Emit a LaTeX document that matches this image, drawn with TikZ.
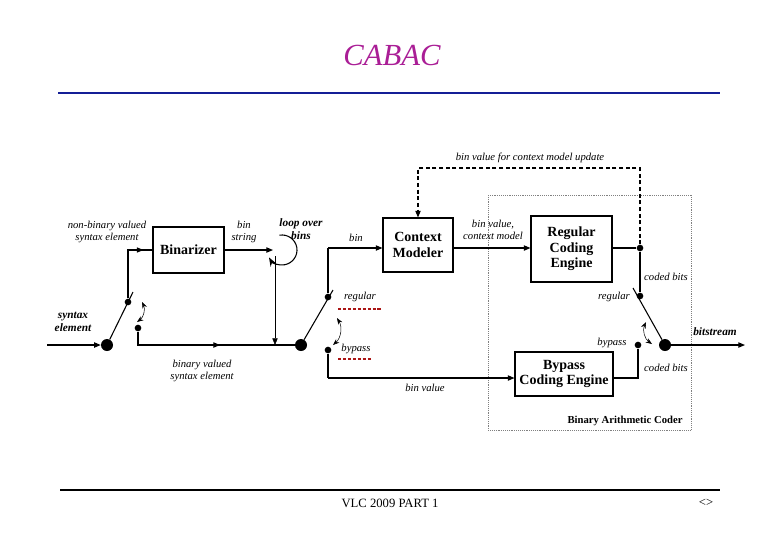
\documentclass[tikz,border=0pt]{standalone}
\usepackage{fontspec}
\setmainfont{Liberation Serif}
\usetikzlibrary{arrows.meta}
\definecolor{ttl}{RGB}{170,30,150}
\definecolor{navy}{RGB}{20,30,150}
\definecolor{dred}{RGB}{170,20,20}
\begin{document}
\begin{tikzpicture}[x=0.75pt,y=-0.75pt,
  box/.style={draw,thick,fill=white,align=center,font=\bfseries\fontsize{10.5}{11.5}\selectfont,inner sep=1pt},
  lab/.style={font=\itshape\fontsize{8}{9}\selectfont,align=center,inner sep=0pt},
  blab/.style={font=\bfseries\itshape\fontsize{8.5}{9.5}\selectfont,align=center,inner sep=0pt},
  arr/.style={-{Triangle[length=5pt,width=4pt]}},
  dot/.style={circle,fill,inner sep=0pt,minimum size=5pt},
  bdot/.style={circle,fill,inner sep=0pt,minimum size=9pt},
  >=Stealth]
\useasboundingbox (0,0) rectangle (780,540);
\node[font=\itshape\fontsize{23}{26}\selectfont,text=ttl] (title) at (392,55) {CABAC};
\draw[navy,thick] (58,93) -- (720,93);
\draw[thick] (60,490) -- (720,490);
\node[font=\fontsize{9.5}{11}\selectfont] (foot) at (390,503) {VLC 2009 PART 1};
\node[font=\fontsize{9.5}{11}\selectfont] (pg) at (706,503) {<>};
% dotted coder box
\draw[densely dotted,gray] (488,195) rectangle (691,430);
\node[font=\bfseries\fontsize{8}{9}\selectfont] (bac) at (625,421) {Binary Arithmetic Coder};
% boxes
\node[box,minimum width=71pt*0.75,minimum height=46pt*0.75] (bin) at (188.5,250) {Binarizer};
\node[box,minimum width=70pt*0.75,minimum height=54pt*0.75] (cm) at (418,245) {Context\\Modeler};
\node[box,minimum width=81pt*0.75,minimum height=66pt*0.75] (reg) at (571.5,249) {Regular\\Coding\\Engine};
\node[box,minimum width=98pt*0.75,minimum height=44pt*0.75] (byp) at (564,374) {Bypass\\Coding Engine};
% left switch
\node[bdot] (s1) at (107,345) {};
\node[dot] (s1a) at (128,302) {};
\node[dot] (s1b) at (138,328) {};
\coordinate (in) at (47,345);
\draw[arr,thick] (in) -- (s1);
\node[blab] (selab) at (73,322) {syntax\\element};
\draw[thick] (s1) -- (133,292);
\draw[<->] (142,302) to[bend left=40] (137,322);
\draw[thick] (s1a) |- (bin.west) node[pos=0.75,sloped] {\tikz\fill (0,0)--(-5pt,2pt)--(-5pt,-2pt)--cycle;};
\node[lab] (nbl) at (107,232) {non-binary valued\\syntax element};
\node[bdot] (s2) at (301,345) {};
\draw[thick] (s1b) |- (s2);
\draw[arr,thick] (s1b|-s2) -- (220,345);
\node[lab] (bvl) at (202,371) {binary valued\\syntax element};
% loop
\coordinate (lp) at (273,250);
\draw[arr,thick] (bin.east) -- (lp);
\node[lab] (bsl) at (244,232) {bin\\string};
\draw[thick,->] (279.4,235.2) arc (-100:150:15);
\node[blab] (lob) at (301,229) {loop over\\bins};
\coordinate (lv) at (275,256);
\draw[arr] (lv) -- (275,345);
% second switch
\node[dot] (s2a) at (328,297) {};
\node[dot] (s2b) at (328,350) {};
\draw[thick] (s2) -- (333,290);
\draw[<->] (337,318) to[bend left=40] (333,345);
\draw[thick] (s2a) -- (328,248) coordinate (c1);
\draw[arr,thick] (c1) -- (cm.west |- c1);
\node[lab] (binl) at (356,238) {bin};
\node[lab] (regl) at (360,297) {regular};
\draw[dred,line width=2pt,dash pattern=on 2.5pt off 1.2pt] (338,309) -- (381,309);
\node[lab] (bypl) at (356,349) {bypass};
\draw[dred,line width=2pt,dash pattern=on 2.5pt off 1.2pt] (338,359) -- (372,359);
\draw[thick] (s2b) -- (328,378) coordinate (c2);
\draw[arr,thick] (c2) -- (byp.west |- c2);
\node[lab] (bvl2) at (425,388) {bin value};
% context -> regular
\draw[arr,thick] (cm.east |- 0,248) -- (reg.west |- 0,248);
\node[lab] (bvcm) at (493,230) {bin value,\\context model};
% right part
\node[dot] (r1) at (640,248) {};
\node[dot] (r2) at (640,296) {};
\node[dot] (r3) at (638,345) {};
\node[bdot] (s3) at (665,345) {};
\draw[thick] (reg.east |- r1) -- (r1) -- (r2);
\draw[thick] (byp.east |- 0,378) -| (r3);
\draw[thick] (s3) -- (633,288);
\draw[<->] (646,322) to[bend right=40] (652,344);
\node[lab] (regl2) at (614,297) {regular};
\node[lab] (bypl2) at (612,343) {bypass};
\node[lab] (cb1) at (666,277) {coded bits};
\node[lab] (cb2) at (666,368) {coded bits};
\coordinate (out) at (745,345);
\draw[arr,thick] (s3) -- (out);
\node[blab] (bsl2) at (715,332) {bitstream};
% feedback
\draw[arr,thick,densely dashed] (r1) -- (640,168) -| (cm.north);
\node[lab] (fb) at (530,158) {bin value for context model update};
\end{tikzpicture}
\end{document}
